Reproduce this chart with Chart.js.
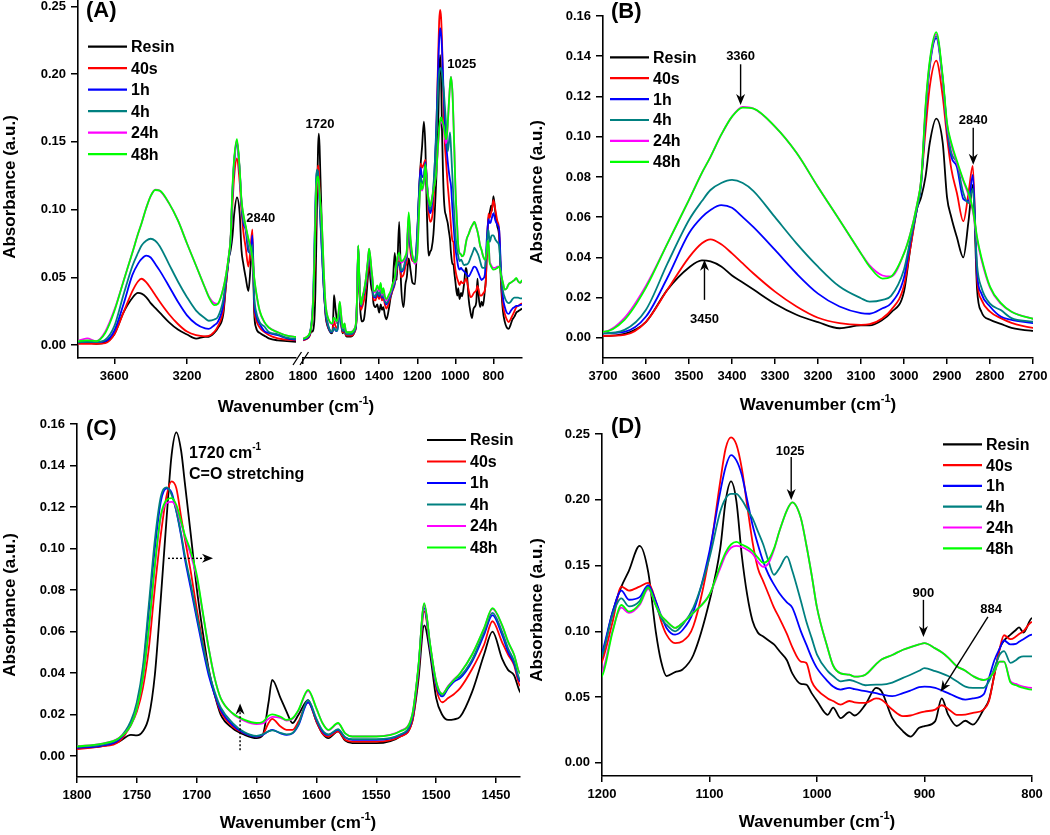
<!DOCTYPE html>
<html>
<head>
<meta charset="utf-8">
<script src="https://cdn.jsdelivr.net/npm/chart.js@4/dist/chart.umd.min.js"></script>
<style>
  html, body { margin: 0; padding: 0; background: #fff; }
  #fig { position: relative; width: 1050px; height: 835px; overflow: hidden; }
  canvas { position: absolute; }
</style>
</head>
<body>
<div id="fig">
  <canvas id="aLeft" width="525" height="415" style="left:0;top:0"></canvas>
  <canvas id="aRight" width="237" height="415" style="left:288px;top:0"></canvas>
  <canvas id="panelB" width="525" height="415" style="left:525px;top:0"></canvas>
  <canvas id="panelC" width="525" height="420" style="left:0;top:415px"></canvas>
  <canvas id="panelD" width="525" height="420" style="left:525px;top:415px"></canvas>
</div>
<script>
// series
const labels = ['Resin', '40s', '1h', '4h', '24h', '48h'];
const colors = ['#000000', '#ff0000', '#0000ff', '#008080', '#ff00ff', '#00ff00'];

// O-H / C-H region (3800 - 2600 cm-1)
const wnOH = [3800, 3750, 3700, 3650, 3600, 3550, 3500, 3470, 3450, 3425,
  3400, 3375, 3350, 3300, 3250, 3200, 3150, 3100, 3080, 3050,
  3030, 3000, 2985, 2970, 2960, 2950, 2940, 2925, 2910, 2900,
  2890, 2877, 2862, 2850, 2840, 2830, 2820, 2800, 2775, 2750,
  2700, 2650, 2600];
const resinOH = [0.002, 0.002, 0.001, 0.002, 0.008, 0.024, 0.035, 0.0385, 0.038, 0.0355,
  0.031, 0.0275, 0.024, 0.017, 0.0115, 0.0078, 0.0048, 0.0062, 0.0062, 0.009,
  0.0126, 0.023, 0.045, 0.064, 0.070, 0.080, 0.097, 0.109, 0.097, 0.070,
  0.060, 0.050, 0.040, 0.058, 0.076, 0.024, 0.013, 0.009, 0.007, 0.005,
  0.0035, 0.003, 0.0025];
const s40OH = [0.001, 0.001, 0.001, 0.0015, 0.008, 0.024, 0.040, 0.047, 0.049, 0.0465,
  0.042, 0.037, 0.032, 0.023, 0.0156, 0.010, 0.0073, 0.0065, 0.0068, 0.0098,
  0.0138, 0.026, 0.045, 0.064, 0.078, 0.103, 0.125, 0.1378, 0.120, 0.100,
  0.084, 0.072, 0.058, 0.072, 0.0855, 0.029, 0.019, 0.013, 0.0098, 0.0075,
  0.005, 0.004, 0.0035];
const h1OH = [0.002, 0.0025, 0.0023, 0.003, 0.0106, 0.030, 0.052, 0.060, 0.0636, 0.066,
  0.0647, 0.060, 0.055, 0.0437, 0.032, 0.022, 0.0156, 0.0123, 0.012, 0.0147,
  0.0172, 0.030, 0.048, 0.064, 0.077, 0.111, 0.135, 0.149, 0.128, 0.104,
  0.090, 0.085, 0.069, 0.068, 0.081, 0.032, 0.022, 0.0156, 0.0106, 0.009,
  0.0073, 0.005, 0.004];
const h4OH = [0.002, 0.0025, 0.0023, 0.004, 0.014, 0.037, 0.0586, 0.068, 0.0735, 0.077,
  0.0785, 0.077, 0.073, 0.060, 0.047, 0.0354, 0.0255, 0.0197, 0.018, 0.0189,
  0.0209, 0.034, 0.049, 0.064, 0.077, 0.112, 0.136, 0.150, 0.129, 0.105,
  0.092, 0.087, 0.072, 0.067, 0.074, 0.036, 0.025, 0.017, 0.0138, 0.0098,
  0.008, 0.0055, 0.0045];
const h24OH = [0.003, 0.005, 0.003, 0.010, 0.026, 0.047, 0.0686, 0.082, 0.090, 0.101,
  0.110, 0.1148, 0.114, 0.105, 0.092, 0.075, 0.0586, 0.042, 0.036, 0.031,
  0.0305, 0.042, 0.052, 0.066, 0.079, 0.114, 0.137, 0.151, 0.129, 0.106,
  0.096, 0.087, 0.078, 0.071, 0.063, 0.049, 0.039, 0.025, 0.017, 0.013,
  0.0095, 0.007, 0.006];
const h48OH = [0.003, 0.0035, 0.003, 0.009, 0.025, 0.047, 0.0686, 0.082, 0.090, 0.101,
  0.110, 0.1145, 0.114, 0.105, 0.092, 0.075, 0.0586, 0.042, 0.0354, 0.0295,
  0.0305, 0.042, 0.052, 0.066, 0.079, 0.115, 0.138, 0.152, 0.130, 0.107,
  0.097, 0.088, 0.0785, 0.072, 0.064, 0.050, 0.040, 0.0255, 0.0174, 0.013,
  0.0095, 0.007, 0.006];

// carbonyl / aromatic region (1800 - 1430 cm-1)
const wnCO = [1800, 1780, 1765, 1755, 1750, 1745, 1740, 1735, 1730, 1725,
  1721, 1717, 1713, 1710, 1705, 1700, 1695, 1690, 1685, 1680,
  1670, 1660, 1650, 1645, 1640, 1637, 1630, 1625, 1620, 1615,
  1607, 1600, 1595, 1590, 1582, 1576, 1570, 1550, 1530, 1520,
  1515, 1510, 1505, 1500, 1495, 1490, 1485, 1480, 1470, 1460,
  1453, 1445, 1440, 1435, 1430];
const resinCO = [0.004, 0.0047, 0.007, 0.0103, 0.010, 0.012, 0.019, 0.039, 0.076, 0.116,
  0.145, 0.156, 0.147, 0.132, 0.107, 0.081, 0.060, 0.042, 0.0296, 0.020,
  0.0135, 0.0103, 0.0087, 0.010, 0.026, 0.0368, 0.028, 0.0215, 0.016, 0.020,
  0.027, 0.0167, 0.011, 0.0087, 0.012, 0.0075, 0.0063, 0.0063, 0.0095, 0.0167,
  0.036, 0.063, 0.049, 0.028, 0.020, 0.0175, 0.0178, 0.019, 0.031, 0.049,
  0.060, 0.047, 0.0416, 0.039, 0.031];
const s40CO = [0.0034, 0.0047, 0.007, 0.015, 0.0215, 0.0328, 0.052, 0.081, 0.1067, 0.126,
  0.1324, 0.129, 0.115, 0.105, 0.089, 0.071, 0.055, 0.0408, 0.0296, 0.0215,
  0.0143, 0.011, 0.0095, 0.0103, 0.016, 0.018, 0.0143, 0.0127, 0.0127, 0.0167,
  0.026, 0.0167, 0.011, 0.0095, 0.012, 0.0079, 0.007, 0.007, 0.0095, 0.0167,
  0.039, 0.0697, 0.052, 0.0328, 0.026, 0.028, 0.030, 0.0328, 0.042, 0.0537,
  0.065, 0.055, 0.049, 0.044, 0.034];
const h1CO = [0.004, 0.005, 0.0079, 0.016, 0.0247, 0.0408, 0.0697, 0.100, 0.1227, 0.129,
  0.127, 0.118, 0.106, 0.0954, 0.081, 0.0663, 0.052, 0.039, 0.0296, 0.0223,
  0.015, 0.011, 0.0095, 0.0103, 0.012, 0.0127, 0.011, 0.0103, 0.011, 0.015,
  0.026, 0.0175, 0.012, 0.0103, 0.0127, 0.009, 0.0079, 0.0079, 0.0103, 0.0183,
  0.0408, 0.0713, 0.052, 0.034, 0.0288, 0.0328, 0.036, 0.0376, 0.0456, 0.0585,
  0.068, 0.0585, 0.0504, 0.0448, 0.036];
const h4CO = [0.0045, 0.0055, 0.0085, 0.017, 0.026, 0.043, 0.073, 0.104, 0.125, 0.1295,
  0.126, 0.118, 0.107, 0.097, 0.083, 0.068, 0.054, 0.041, 0.031, 0.0235,
  0.016, 0.0115, 0.0098, 0.0105, 0.012, 0.0125, 0.0112, 0.0105, 0.0112, 0.0155,
  0.027, 0.018, 0.0125, 0.0105, 0.013, 0.0092, 0.0082, 0.0082, 0.0105, 0.019,
  0.042, 0.073, 0.053, 0.035, 0.0295, 0.0335, 0.037, 0.0385, 0.0465, 0.060,
  0.069, 0.060, 0.052, 0.046, 0.037];
const h24CO = [0.0048, 0.006, 0.0088, 0.015, 0.023, 0.037, 0.061, 0.091, 0.115, 0.122,
  0.1225, 0.120, 0.112, 0.106, 0.097, 0.086, 0.069, 0.052, 0.0376, 0.028,
  0.0205, 0.017, 0.0155, 0.0158, 0.018, 0.019, 0.0185, 0.0172, 0.018, 0.022,
  0.0315, 0.0228, 0.016, 0.0125, 0.0158, 0.011, 0.0095, 0.0096, 0.0122, 0.020,
  0.042, 0.073, 0.0535, 0.036, 0.030, 0.0338, 0.037, 0.040, 0.049, 0.0615,
  0.071, 0.063, 0.055, 0.049, 0.040];
const h48CO = [0.0047, 0.006, 0.0087, 0.015, 0.023, 0.0376, 0.0617, 0.092, 0.116, 0.1235,
  0.1243, 0.121, 0.113, 0.1067, 0.0986, 0.0874, 0.0697, 0.052, 0.0376, 0.028,
  0.0207, 0.0175, 0.016, 0.0165, 0.0195, 0.0202, 0.019, 0.0175, 0.0183, 0.0223,
  0.032, 0.023, 0.016, 0.0127, 0.016, 0.011, 0.0095, 0.0095, 0.012, 0.020,
  0.0424, 0.0737, 0.0537, 0.036, 0.030, 0.0336, 0.0368, 0.040, 0.049, 0.0617,
  0.0713, 0.0633, 0.0553, 0.049, 0.040];

// 1420 - 1212 cm-1 (only seen in panel A)
const wnMid = [1420, 1410, 1400, 1392, 1385, 1378, 1370, 1362, 1350, 1340, 1330,
  1318, 1308, 1295, 1285, 1272, 1262, 1255, 1245, 1235, 1225, 1212];
const resinMid = [0.028, 0.030, 0.024, 0.030, 0.026, 0.028, 0.022, 0.019, 0.026, 0.035, 0.042,
  0.068, 0.048, 0.091, 0.045, 0.028, 0.045, 0.050, 0.064, 0.055, 0.046, 0.045];
const s40Mid = [0.033, 0.037, 0.034, 0.038, 0.033, 0.035, 0.030, 0.027, 0.031, 0.036, 0.040,
  0.045, 0.055, 0.062, 0.050, 0.052, 0.058, 0.062, 0.085, 0.068, 0.062, 0.062];
const h1Mid = [0.035, 0.039, 0.036, 0.040, 0.035, 0.037, 0.032, 0.030, 0.033, 0.037, 0.041,
  0.046, 0.057, 0.060, 0.054, 0.056, 0.062, 0.066, 0.092, 0.072, 0.064, 0.062];
const h4Mid = [0.036, 0.040, 0.037, 0.041, 0.036, 0.038, 0.033, 0.031, 0.034, 0.038, 0.042,
  0.047, 0.058, 0.061, 0.055, 0.057, 0.063, 0.067, 0.093, 0.073, 0.065, 0.062];
const h24Mid = [0.039, 0.043, 0.040, 0.045, 0.037, 0.041, 0.035, 0.033, 0.036, 0.039, 0.044,
  0.049, 0.061, 0.067, 0.061, 0.062, 0.065, 0.069, 0.096, 0.077, 0.065, 0.060];
const h48Mid = [0.040, 0.044, 0.041, 0.046, 0.038, 0.042, 0.036, 0.034, 0.037, 0.040, 0.045,
  0.050, 0.062, 0.068, 0.062, 0.063, 0.066, 0.070, 0.098, 0.078, 0.066, 0.061];

// fingerprint region (1200 - 800 cm-1)
const wnFP = [1200, 1190, 1182, 1175, 1165, 1157, 1150, 1145, 1140, 1132,
  1125, 1115, 1100, 1090, 1085, 1080, 1075, 1070, 1065, 1060,
  1055, 1050, 1045, 1040, 1035, 1028, 1023, 1015, 1010, 1005,
  1000, 990, 985, 978, 970, 965, 955, 945, 940, 930,
  920, 913, 905, 900, 890, 884, 878, 870, 862, 855,
  845, 840, 835, 830, 826, 820, 815, 812, 808, 800];
const resinFP = [0.080, 0.115, 0.134, 0.146, 0.165, 0.145, 0.100, 0.077, 0.066, 0.069,
  0.071, 0.082, 0.123, 0.163, 0.199, 0.214, 0.199, 0.158, 0.128, 0.108,
  0.099, 0.096, 0.093, 0.090, 0.085, 0.078, 0.068, 0.060, 0.0595, 0.053,
  0.047, 0.0365, 0.042, 0.034, 0.0385, 0.036, 0.0443, 0.057, 0.0545, 0.034,
  0.024, 0.020, 0.0266, 0.028, 0.0317, 0.049, 0.0367, 0.028, 0.032, 0.029,
  0.0405, 0.048, 0.067, 0.087, 0.093, 0.0975, 0.101, 0.103, 0.099, 0.110];
const s40FP = [0.077, 0.1077, 0.134, 0.131, 0.134, 0.1368, 0.123, 0.1077, 0.0975, 0.091,
  0.0925, 0.104, 0.158, 0.214, 0.239, 0.2475, 0.242, 0.224, 0.196, 0.168,
  0.148, 0.138, 0.128, 0.118, 0.110, 0.098, 0.088, 0.077, 0.076, 0.062,
  0.0557, 0.049, 0.047, 0.0443, 0.047, 0.046, 0.0456, 0.049, 0.048, 0.0405,
  0.0355, 0.036, 0.038, 0.039, 0.0405, 0.0438, 0.041, 0.0365, 0.0367, 0.038,
  0.0405, 0.047, 0.067, 0.087, 0.097, 0.094, 0.096, 0.098, 0.100, 0.107];
const h1FP = [0.0836, 0.115, 0.131, 0.124, 0.126, 0.135, 0.123, 0.112, 0.1026, 0.0975,
  0.101, 0.115, 0.161, 0.206, 0.225, 0.234, 0.230, 0.219, 0.200, 0.181,
  0.166, 0.153, 0.143, 0.1355, 0.129, 0.122, 0.118, 0.100, 0.090, 0.080,
  0.072, 0.062, 0.058, 0.0557, 0.057, 0.056, 0.0545, 0.053, 0.052, 0.0507,
  0.053, 0.055, 0.0575, 0.058, 0.057, 0.055, 0.053, 0.050, 0.048, 0.049,
  0.052, 0.0646, 0.078, 0.087, 0.093, 0.090, 0.0904, 0.092, 0.094, 0.0975];
const h4FP = [0.081, 0.1127, 0.125, 0.119, 0.123, 0.134, 0.120, 0.110, 0.105, 0.100,
  0.105, 0.118, 0.156, 0.191, 0.201, 0.2045, 0.2045, 0.200, 0.193, 0.186,
  0.176, 0.166, 0.153, 0.143, 0.148, 0.157, 0.146, 0.123, 0.1077, 0.095,
  0.0823, 0.0697, 0.066, 0.062, 0.063, 0.062, 0.059, 0.0595, 0.0595, 0.061,
  0.0646, 0.067, 0.070, 0.072, 0.0697, 0.068, 0.066, 0.062, 0.058, 0.057,
  0.057, 0.062, 0.072, 0.0823, 0.085, 0.076, 0.078, 0.080, 0.081, 0.081];
const h24FP = [0.068, 0.101, 0.118, 0.114, 0.120, 0.132, 0.120, 0.112, 0.1077, 0.1026,
  0.1064, 0.114, 0.128, 0.148, 0.158, 0.1635, 0.165, 0.164, 0.162, 0.159,
  0.153, 0.149, 0.152, 0.162, 0.176, 0.192, 0.198, 0.186, 0.166, 0.143,
  0.118, 0.087, 0.074, 0.068, 0.067, 0.0655, 0.067, 0.075, 0.0785, 0.082,
  0.086, 0.088, 0.090, 0.091, 0.087, 0.084, 0.080, 0.0735, 0.070, 0.066,
  0.063, 0.0646, 0.0697, 0.077, 0.077, 0.062, 0.060, 0.059, 0.058, 0.057];
const h48FP = [0.066, 0.100, 0.120, 0.115, 0.121, 0.133, 0.120, 0.112, 0.1077, 0.1026,
  0.1064, 0.114, 0.128, 0.150, 0.160, 0.166, 0.168, 0.166, 0.164, 0.161,
  0.156, 0.152, 0.1545, 0.163, 0.176, 0.192, 0.198, 0.186, 0.166, 0.143,
  0.118, 0.087, 0.074, 0.068, 0.067, 0.0655, 0.067, 0.075, 0.0785, 0.082,
  0.086, 0.088, 0.090, 0.091, 0.087, 0.084, 0.080, 0.0735, 0.070, 0.066,
  0.063, 0.0646, 0.0697, 0.077, 0.077, 0.061, 0.059, 0.058, 0.057, 0.0557];

// low end (790 - 650 cm-1, panel A only)
const wnTail = [790, 780, 770, 760, 750, 740, 730, 720, 710, 700, 690, 680, 670, 660, 650];
const resinTail = [0.098, 0.088, 0.080, 0.045, 0.025, 0.017, 0.013, 0.012, 0.015, 0.019, 0.021, 0.024, 0.025, 0.026, 0.027];
const s40Tail = [0.100, 0.092, 0.085, 0.050, 0.030, 0.023, 0.019, 0.017, 0.019, 0.022, 0.025, 0.028, 0.029, 0.030, 0.031];
const h1Tail = [0.092, 0.089, 0.085, 0.055, 0.035, 0.028, 0.024, 0.023, 0.025, 0.027, 0.028, 0.029, 0.029, 0.0295, 0.030];
const h4Tail = [0.078, 0.076, 0.073, 0.052, 0.040, 0.035, 0.032, 0.031, 0.032, 0.034, 0.035, 0.035, 0.035, 0.0345, 0.0345];
const h24Tail = [0.057, 0.058, 0.058, 0.052, 0.046, 0.041, 0.042, 0.045, 0.046, 0.047, 0.048, 0.049, 0.047, 0.046, 0.047];
const h48Tail = [0.056, 0.057, 0.058, 0.052, 0.046, 0.041, 0.042, 0.045, 0.046, 0.047, 0.048, 0.0497, 0.047, 0.046, 0.048];

// tick labels
const yTicks025 = [0, 0.05, 0.10, 0.15, 0.20, 0.25];
const yTicks016 = [0, 0.02, 0.04, 0.06, 0.08, 0.10, 0.12, 0.14, 0.16];
const xTicksAHigh = [3600, 3200, 2800];
const xTicksALow = [1800, 1600, 1400, 1200, 1000, 800];
const xTicksB = [3700, 3600, 3500, 3400, 3300, 3200, 3100, 3000, 2900, 2800, 2700];
const xTicksC = [1800, 1750, 1700, 1650, 1600, 1550, 1500, 1450];
const xTicksD = [1200, 1100, 1000, 900, 800];

const FONT = '"Liberation Sans", Arial, Helvetica, sans-serif';
const sup = [{ t: 'Wavenumber (cm' }, { t: '-1', sup: true }, { t: ')' }];

const ohSets = [resinOH, s40OH, h1OH, h4OH, h24OH, h48OH];
const coSets = [resinCO, s40CO, h1CO, h4CO, h24CO, h48CO];
const midSets = [resinMid, s40Mid, h1Mid, h4Mid, h24Mid, h48Mid];
const fpSets = [resinFP, s40FP, h1FP, h4FP, h24FP, h48FP];
const tailSets = [resinTail, s40Tail, h1Tail, h4Tail, h24Tail, h48Tail];

function makeDatasets(groups) {
  return labels.map((label, i) => ({
    label,
    data: groups.flatMap(([wn, sets]) => wn.map((x, k) => ({ x, y: sets[i][k] }))),
    borderColor: colors[i],
    borderWidth: 1.8,
    pointRadius: 0,
    fill: false,
    cubicInterpolationMode: 'monotone',
    order: labels.length - i, // 48h on top
  }));
}
const highGroups = [[wnOH, ohSets]];
const lowGroups = [[wnCO, coSets], [wnMid, midSets], [wnFP, fpSets], [wnTail, tailSets]];

function tickFont() { return { family: FONT, size: 13, weight: 'bold' }; }

function makeScales(o) {
  return {
    x: {
      type: 'linear', reverse: true, min: o.xmin, max: o.xmax,
      afterBuildTicks: s => { s.ticks = o.xticks.map(v => ({ value: v })); },
      afterFit: s => { s.height = o.xHeight; s.paddingLeft = 0; s.paddingRight = 0; },
      ticks: { autoSkip: false, maxRotation: 0, padding: 5, color: '#000', font: tickFont(), callback: v => String(v) },
      grid: { drawOnChartArea: false, tickLength: 6, color: '#000', lineWidth: 1.5 },
      border: { color: '#000', width: 1.6 },
    },
    y: {
      type: 'linear', min: o.ymin, max: o.ymax, display: o.yShow !== false,
      afterBuildTicks: s => { s.ticks = o.yticks.map(v => ({ value: v })); },
      afterFit: s => { s.width = o.yWidth || 0; s.paddingTop = 0; s.paddingBottom = 0; },
      ticks: { padding: 5, color: '#000', font: tickFont(), callback: v => Number(v).toFixed(2) },
      grid: { drawOnChartArea: false, tickLength: 7, color: '#000', lineWidth: 1.5 },
      border: { color: '#000', width: 1.6 },
    },
  };
}

function richText(ctx, x, y, parts, size, align) {
  const big = `bold ${size}px ${FONT}`, small = `bold ${Math.round(size * 0.62)}px ${FONT}`;
  const widths = parts.map(p => { ctx.font = p.sup ? small : big; return ctx.measureText(p.t).width; });
  let cx = align === 'center' ? x - widths.reduce((s, w) => s + w, 0) / 2 : x;
  ctx.textAlign = 'left';
  ctx.textBaseline = 'middle';
  parts.forEach((p, i) => {
    ctx.font = p.sup ? small : big;
    ctx.fillText(p.t, cx, p.sup ? y - size * 0.35 : y);
    cx += widths[i];
  });
}

function arrow(ctx, x0, y0, x1, y1, dashed) {
  const d = Math.hypot(x1 - x0, y1 - y0), ux = (x1 - x0) / d, uy = (y1 - y0) / d;
  const L = 11, W = 4.5;
  ctx.lineWidth = 1.4;
  ctx.setLineDash(dashed ? [2, 2] : []);
  ctx.beginPath();
  ctx.moveTo(x0, y0);
  ctx.lineTo(x1 - ux * L * 0.7, y1 - uy * L * 0.7);
  ctx.stroke();
  ctx.setLineDash([]);
  ctx.beginPath();
  ctx.moveTo(x1, y1);
  ctx.lineTo(x1 - ux * L - uy * W, y1 - uy * L + ux * W);
  ctx.lineTo(x1 - ux * L * 0.7, y1 - uy * L * 0.7);
  ctx.lineTo(x1 - ux * L + uy * W, y1 - uy * L - ux * W);
  ctx.closePath();
  ctx.fill();
}

// labels, legend, titles and arrows drawn on top of each chart
function decor(cfg) {
  return {
    id: 'decor',
    afterDraw(chart) {
      const { ctx, chartArea: a } = chart;
      const xs = chart.scales.x, ys = chart.scales.y;
      ctx.save();
      ctx.fillStyle = '#000';
      ctx.strokeStyle = '#000';
      if (cfg.panel) {
        ctx.font = `bold 22px ${FONT}`;
        ctx.textAlign = 'left';
        ctx.textBaseline = 'middle';
        ctx.fillText(cfg.panel.text, a.left + cfg.panel.dx, cfg.panel.y);
      }
      if (cfg.legend) {
        const g = cfg.legend;
        labels.forEach((lab, i) => {
          const y = g.y + i * g.dy;
          ctx.strokeStyle = colors[i];
          ctx.lineWidth = 2.2;
          ctx.beginPath();
          ctx.moveTo(g.x, y);
          ctx.lineTo(g.x + 39, y);
          ctx.stroke();
          ctx.fillStyle = '#000';
          ctx.font = `bold 16px ${FONT}`;
          ctx.textAlign = 'left';
          ctx.textBaseline = 'middle';
          ctx.fillText(lab, g.x + 43, y + 1);
        });
        ctx.strokeStyle = '#000';
      }
      if (cfg.yTitle) {
        ctx.save();
        ctx.translate(cfg.yTitle.x, cfg.yTitle.y);
        ctx.rotate(-Math.PI / 2);
        ctx.font = `bold 17px ${FONT}`;
        ctx.textAlign = 'center';
        ctx.textBaseline = 'middle';
        ctx.fillText('Absorbance (a.u.)', 0, 0);
        ctx.restore();
      }
      if (cfg.xTitle) richText(ctx, cfg.xTitle.x, cfg.xTitle.y, sup, 17, 'center');
      (cfg.notes || []).forEach(n => {
        const px = xs.getPixelForValue(n.wn), py = ys.getPixelForValue(n.a);
        if (n.parts) richText(ctx, px, py, n.parts, n.size || 13, n.align || 'center');
        else richText(ctx, px, py, [{ t: n.text }], n.size || 13, n.align || 'center');
      });
      (cfg.arrows || []).forEach(r => arrow(ctx,
        xs.getPixelForValue(r.x0), ys.getPixelForValue(r.y0),
        xs.getPixelForValue(r.x1), ys.getPixelForValue(r.y1), r.dashed));
      if (cfg.breakMark) {
        ctx.lineWidth = 1.3;
        ctx.beginPath();
        ctx.moveTo(a.right - 3, a.bottom + 7); ctx.lineTo(a.right + 5.5, a.bottom - 6);
        ctx.moveTo(a.right + 4, a.bottom + 7); ctx.lineTo(a.right + 12.5, a.bottom - 6);
        ctx.stroke();
      }
      ctx.restore();
    },
  };
}

function draw(id, groups, scaleOpts, padding, cfg) {
  new Chart(document.getElementById(id), {
    type: 'line',
    data: { datasets: makeDatasets(groups) },
    options: {
      responsive: false,
      animation: false,
      devicePixelRatio: 1,
      layout: { padding },
      plugins: { legend: { display: false }, tooltip: { enabled: false } },
      scales: makeScales(scaleOpts),
    },
    plugins: [decor(cfg)],
  });
}

// (A) left half: 3800 - 2600
draw('aLeft', highGroups,
  { xmin: 2600, xmax: 3800, xticks: xTicksAHigh, ymin: -0.0095, ymax: 0.254, yticks: yTicks025, yWidth: 78, xHeight: 57 },
  { top: 1, left: 0, right: 229, bottom: 0 },
  {
    panel: { text: '(A)', dx: 8, y: 11 },
    legend: { x: 88, y: 46.7, dy: 21.5 },
    yTitle: { x: 10, y: 187 },
    xTitle: { x: 296, y: 407 },
    notes: [{ text: '2840', wn: 2794, a: 0.0937 }],
    breakMark: true,
  });

// (A) right half: 1800 - 650
draw('aRight', lowGroups,
  { xmin: 650, xmax: 1800, xticks: xTicksALow, ymin: -0.0095, ymax: 0.254, yticks: yTicks025, yShow: false, xHeight: 57 },
  { top: 1, left: 15, right: 3, bottom: 0 },
  {
    notes: [{ text: '1720', wn: 1711, a: 0.163 }, { text: '1025', wn: 966, a: 0.207 }],
  });

// (B) 3700 - 2700
draw('panelB', highGroups,
  { xmin: 2700, xmax: 3700, xticks: xTicksB, ymin: -0.01, ymax: 0.16, yticks: yTicks016, yWidth: 78, xHeight: 57 },
  { top: 16, left: 0, right: 17, bottom: 0 },
  {
    panel: { text: '(B)', dx: 8, y: 12 },
    legend: { x: 85, y: 57.3, dy: 20.9 },
    yTitle: { x: 12, y: 192 },
    xTitle: { x: 293, y: 405 },
    notes: [
      { text: '3360', wn: 3380, a: 0.1398 },
      { text: '3450', wn: 3464, a: 0.0094 },
      { text: '2840', wn: 2839, a: 0.108 },
    ],
    arrows: [
      { x0: 3380, y0: 0.136, x1: 3380, y1: 0.1158 },
      { x0: 3464, y0: 0.0189, x1: 3464, y1: 0.0388 },
      { x0: 2839, y0: 0.1044, x1: 2839, y1: 0.086 },
    ],
  });

// (C) 1800 - 1430
draw('panelC', lowGroups,
  { xmin: 1430, xmax: 1800, xticks: xTicksC, ymin: -0.01, ymax: 0.16, yticks: yTicks016, yWidth: 77, xHeight: 58 },
  { top: 9, left: 0, right: 5, bottom: 0 },
  {
    panel: { text: '(C)', dx: 9, y: 14 },
    legend: { x: 427, y: 25, dy: 21.5 },
    yTitle: { x: 10, y: 190 },
    xTitle: { x: 298, y: 408 },
    notes: [
      { parts: [{ t: '1720 cm' }, { t: '-1', sup: true }], wn: 1706.4, a: 0.1459, size: 16, align: 'left' },
      { text: 'C=O stretching', wn: 1706.4, a: 0.1354, size: 16, align: 'left' },
    ],
    arrows: [
      { x0: 1724, y0: 0.0953, x1: 1686.4, y1: 0.0953, dashed: true },
      { x0: 1663.8, y0: 0.0029, x1: 1663.8, y1: 0.0254, dashed: true },
    ],
  });

// (D) 1200 - 800
draw('panelD', lowGroups,
  { xmin: 800, xmax: 1200, xticks: xTicksD, ymin: -0.01, ymax: 0.25, yticks: yTicks025, yWidth: 77, xHeight: 59 },
  { top: 19, left: 0, right: 18, bottom: 0 },
  {
    panel: { text: '(D)', dx: 9, y: 12 },
    legend: { x: 418, y: 29.3, dy: 20.8 },
    yTitle: { x: 12, y: 195 },
    xTitle: { x: 292, y: 407 },
    notes: [
      { text: '1025', wn: 1025, a: 0.2366 },
      { text: '900', wn: 901, a: 0.129 },
      { text: '884', wn: 838, a: 0.1168 },
    ],
    arrows: [
      { x0: 1024, y0: 0.2325, x1: 1024, y1: 0.1998 },
      { x0: 901, y0: 0.1239, x1: 901, y1: 0.0957 },
      { x0: 841, y0: 0.111, x1: 885, y1: 0.054 },
    ],
  });
</script>
</body>
</html>
